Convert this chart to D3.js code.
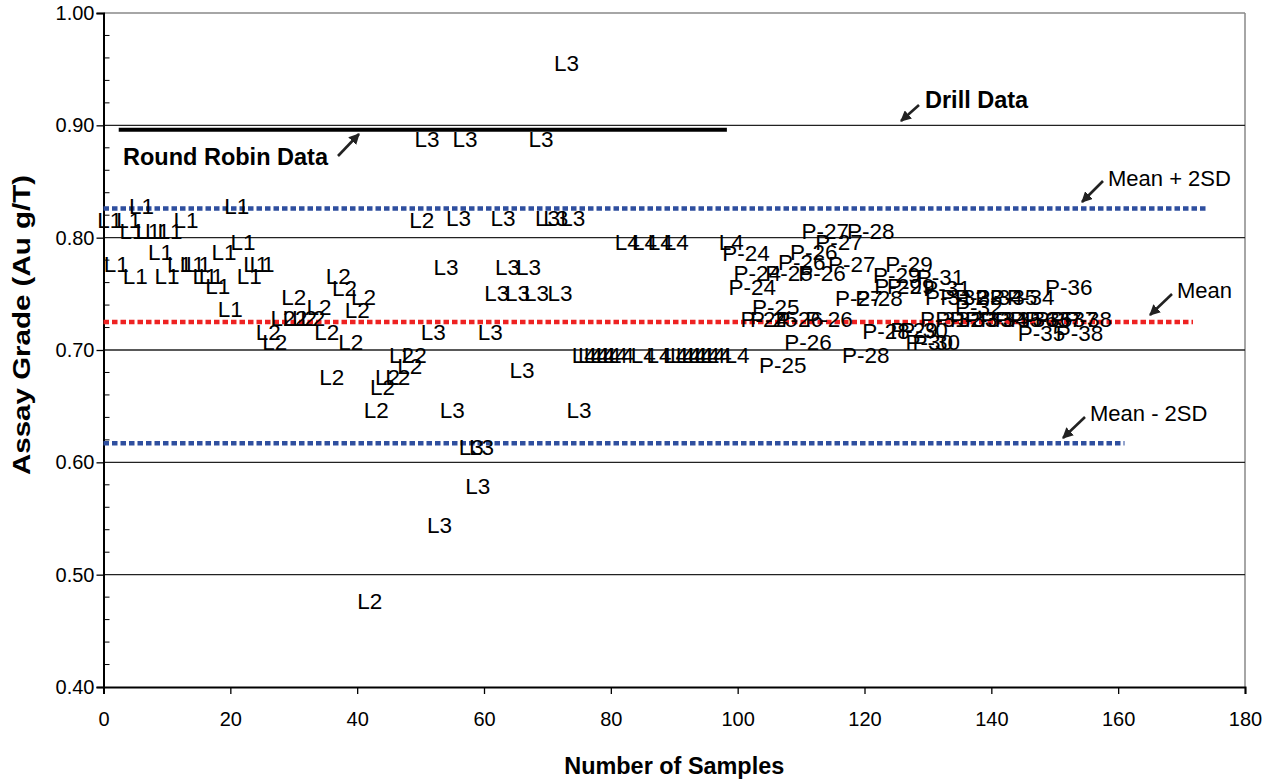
<!DOCTYPE html>
<html><head><meta charset="utf-8">
<script src="https://cdn.jsdelivr.net/npm/d3@7"></script>
<style>body{margin:0;background:#fff}svg{display:block}text{font-family:Arial,"Liberation Sans",sans-serif}</style>
</head><body><svg id="c" width="1277" height="780"></svg>
<script>
// ---------- data ----------
const xTicks = [0,20,40,60,80,100,120,140,160,180];
const yTicks = [0.40,0.50,0.60,0.70,0.80,0.90,1.00];

const l1X = [1,2,4,4.5,5,6,7,8.5,9,10,10.5,12,13,14,15,16,17,18,19,20,21,22,23,24,25];
const l1Y = [0.816,0.777,0.816,0.806,0.766,0.828,0.806,0.806,0.787,0.766,0.806,0.777,0.816,0.777,0.777,0.766,0.766,0.757,0.787,0.737,0.828,0.796,0.766,0.777,0.777];

const l2X = [26,27,28.3,30,30.2,31.7,33,34,35.2,36,37,38,39,40,41,42,43,44,44.8,46.4,47,48.3,49,50.2];
const l2Y = [0.716,0.707,0.729,0.747,0.729,0.729,0.729,0.738,0.716,0.676,0.766,0.755,0.707,0.736,0.747,0.477,0.647,0.667,0.676,0.676,0.696,0.686,0.696,0.816];

const l3X = [51,52,53,54,55,56,57,58,59,59.6,61,62,63,63.7,65.3,66,67,68.3,69,70,71.3,72,73,74,75];
const l3Y = [0.888,0.716,0.544,0.774,0.647,0.818,0.888,0.614,0.579,0.614,0.716,0.751,0.818,0.774,0.751,0.682,0.774,0.751,0.888,0.818,0.818,0.751,0.956,0.818,0.647];

const l4X = [75.8,76.8,77.7,78.7,79.6,80.7,81.7,82.6,85.1,85.3,87.6,87.8,90.2,90.3,91.3,92.2,93.1,94.1,95.2,96.1,97.1,99,99.9];
const l4Y = [0.696,0.696,0.696,0.696,0.696,0.696,0.696,0.796,0.696,0.796,0.696,0.796,0.696,0.796,0.696,0.696,0.696,0.696,0.696,0.696,0.696,0.796,0.696];

const pLabels = ["P-24","P-24","P-24","P-24","P-25","P-25","P-25","P-25",
  "P-26","P-26","P-26","P-26","P-26","P-26","P-27","P-27","P-27","P-27",
  "P-28","P-28","P-28","P-28","P-29","P-29","P-29","P-29","P-29",
  "P-30","P-30","P-30","P-31","P-31","P-31","P-31","P-32","P-32","P-32",
  "P-33","P-33","P-33","P-34","P-34","P-34","P-35","P-35","P-35",
  "P-36","P-36","P-36","P-37","P-37","P-38","P-38"];
const pX = [101.3,103.1,102.3,104.2,108.1,106,105.7,107.1,
  112,110.1,113.3,109.7,114.4,111.1,113.8,116,118,119.1,
  121,122.3,123.4,120.2,127,125.1,125.3,127.3,127.8,
  129.4,130.2,131.3,132,133,133.3,132.5,135.7,138,134.9,
  138,137.2,139.6,141.2,146.2,142,143.5,144.3,147.9,
  152.2,146.7,149,150.6,153,155.3,153.9];
const pY = [0.786,0.769,0.756,0.728,0.769,0.738,0.728,0.687,
  0.787,0.778,0.769,0.728,0.728,0.707,0.806,0.796,0.777,0.746,
  0.806,0.746,0.717,0.696,0.777,0.767,0.757,0.757,0.718,
  0.718,0.707,0.707,0.765,0.755,0.747,0.728,0.747,0.738,0.728,
  0.747,0.728,0.728,0.747,0.747,0.728,0.747,0.728,0.715,
  0.756,0.728,0.728,0.728,0.728,0.728,0.715];

const roundRobin = {value:0.896, from:2.4, to:98.3};
const meanPlus = {value:0.826, from:0, to:173.9};
const meanLine = {value:0.725, from:0, to:171.8};
const meanMinus = {value:0.617, from:0, to:161};

// ---------- drawing ----------
const svg = d3.select("#c");
const x = d3.scaleLinear().domain([0,180]).range([103.5,1245]);
const y = d3.scaleLinear().domain([0.4,1.0]).range([687,13]);

const defs = svg.append("defs");
defs.append("marker").attr("id","ah").attr("viewBox","0 0 10 10").attr("refX",9).attr("refY",5)
  .attr("markerWidth",4.2).attr("markerHeight",4.2).attr("orient","auto-start-reverse").attr("markerUnits","strokeWidth")
  .append("path").attr("d","M0,0 L10,5 L0,10 Z").attr("fill","#222");

// frame (top and right) gray
svg.append("line").attr("x1",x(0)).attr("x2",x(180)).attr("y1",y(1)).attr("y2",y(1)).attr("stroke","#888").attr("stroke-width",1.5);
svg.append("line").attr("x1",x(180)).attr("x2",x(180)).attr("y1",y(1)).attr("y2",y(0.4)).attr("stroke","#888").attr("stroke-width",1.5);

// gridlines
svg.append("g").selectAll("line").data(yTicks.filter(d=>d>0.41&&d<0.99)).join("line")
  .attr("x1",x(0)).attr("x2",x(180)).attr("y1",d=>y(d)).attr("y2",d=>y(d))
  .attr("stroke","#222").attr("stroke-width",1.3);

// minor ticks (inside)
const minor = d3.range(0.42,0.999,0.02).filter(v=>Math.abs(Math.round(v*10)-v*10)>0.05);
svg.append("g").selectAll("line").data(minor).join("line")
  .attr("x1",x(0)).attr("x2",x(0)+6).attr("y1",d=>y(d)).attr("y2",d=>y(d))
  .attr("stroke","#000").attr("stroke-width",1);

// axes
const ya = svg.append("g").attr("transform",`translate(${x(0)},0)`)
  .call(d3.axisLeft(y).tickValues(yTicks).tickFormat(d3.format(".2f")).tickSize(7).tickPadding(2));
const xa = svg.append("g").attr("transform",`translate(0,${y(0.4)})`)
  .call(d3.axisBottom(x).tickValues(xTicks).tickFormat(d3.format("d")).tickSize(7).tickPadding(18));
[ya,xa].forEach(a=>{
  a.select(".domain").attr("stroke","#000").attr("stroke-width",2);
  a.selectAll(".tick line").attr("stroke","#000").attr("stroke-width",1.3);
  a.selectAll(".tick text").attr("font-size",20).attr("fill","#000").attr("font-family","Arial, 'Liberation Sans', sans-serif");
});

// reference lines
svg.append("line").attr("x1",x(roundRobin.from)).attr("x2",x(roundRobin.to))
  .attr("y1",y(roundRobin.value)).attr("y2",y(roundRobin.value)).attr("stroke","#000").attr("stroke-width",4);
[[meanPlus,"#2F4F9F"],[meanMinus,"#2F4F9F"],[meanLine,"#EE2222"]].forEach(([r,c])=>{
  svg.append("line").attr("x1",x(r.from)).attr("x2",x(r.to)).attr("y1",y(r.value)).attr("y2",y(r.value))
    .attr("stroke",c).attr("stroke-width",4.5).attr("stroke-dasharray","5.5,3");
});

// data labels
const series = [
  {x:l1X,y:l1Y,lab:()=>"L1"},
  {x:l2X,y:l2Y,lab:()=>"L2"},
  {x:l3X,y:l3Y,lab:()=>"L3"},
  {x:l4X,y:l4Y,lab:()=>"L4"},
  {x:pX,y:pY,lab:i=>pLabels[i]}
];
const lg = svg.append("g");
series.forEach(s=>{
  lg.append("g").selectAll("text").data(s.x.map((v,i)=>({x:v,y:s.y[i],t:s.lab(i)}))).join("text")
    .attr("x",d=>x(d.x)).attr("y",d=>y(d.y)).attr("text-anchor","middle").attr("dy","0.36em")
    .attr("font-size",22.5).attr("fill","#000").text(d=>d.t);
});

// annotations
function arrow(x1,y1,x2,y2){
  svg.append("line").attr("x1",x1).attr("y1",y1).attr("x2",x2).attr("y2",y2)
    .attr("stroke","#222").attr("stroke-width",2.6).attr("marker-end","url(#ah)");
}
svg.append("text").attr("x",925).attr("y",108).attr("font-size",23.5).attr("font-weight","bold").text("Drill Data");
arrow(919,105,901,121);
svg.append("text").attr("x",123).attr("y",165).attr("font-size",23.5).attr("font-weight","bold").text("Round Robin Data");
arrow(338,156,359,134);
svg.append("text").attr("x",1108).attr("y",186).attr("font-size",22).text("Mean + 2SD");
arrow(1103,181,1082,202);
svg.append("text").attr("x",1177).attr("y",298).attr("font-size",22).text("Mean");
arrow(1172,294,1150,315);
svg.append("text").attr("x",1090).attr("y",421).attr("font-size",22).text("Mean - 2SD");
arrow(1085,417,1063,438);

// axis titles
svg.append("text").attr("transform",`translate(30,325) rotate(-90)`).attr("text-anchor","middle")
  .attr("font-size",23).attr("font-weight","bold").attr("textLength",300).attr("lengthAdjust","spacingAndGlyphs")
  .text("Assay Grade (Au g/T)");
svg.append("text").attr("x",(x(0)+x(180))/2).attr("y",774).attr("text-anchor","middle")
  .attr("font-size",23).attr("font-weight","bold").attr("textLength",220).attr("lengthAdjust","spacingAndGlyphs")
  .text("Number of Samples");
</script></body></html>
